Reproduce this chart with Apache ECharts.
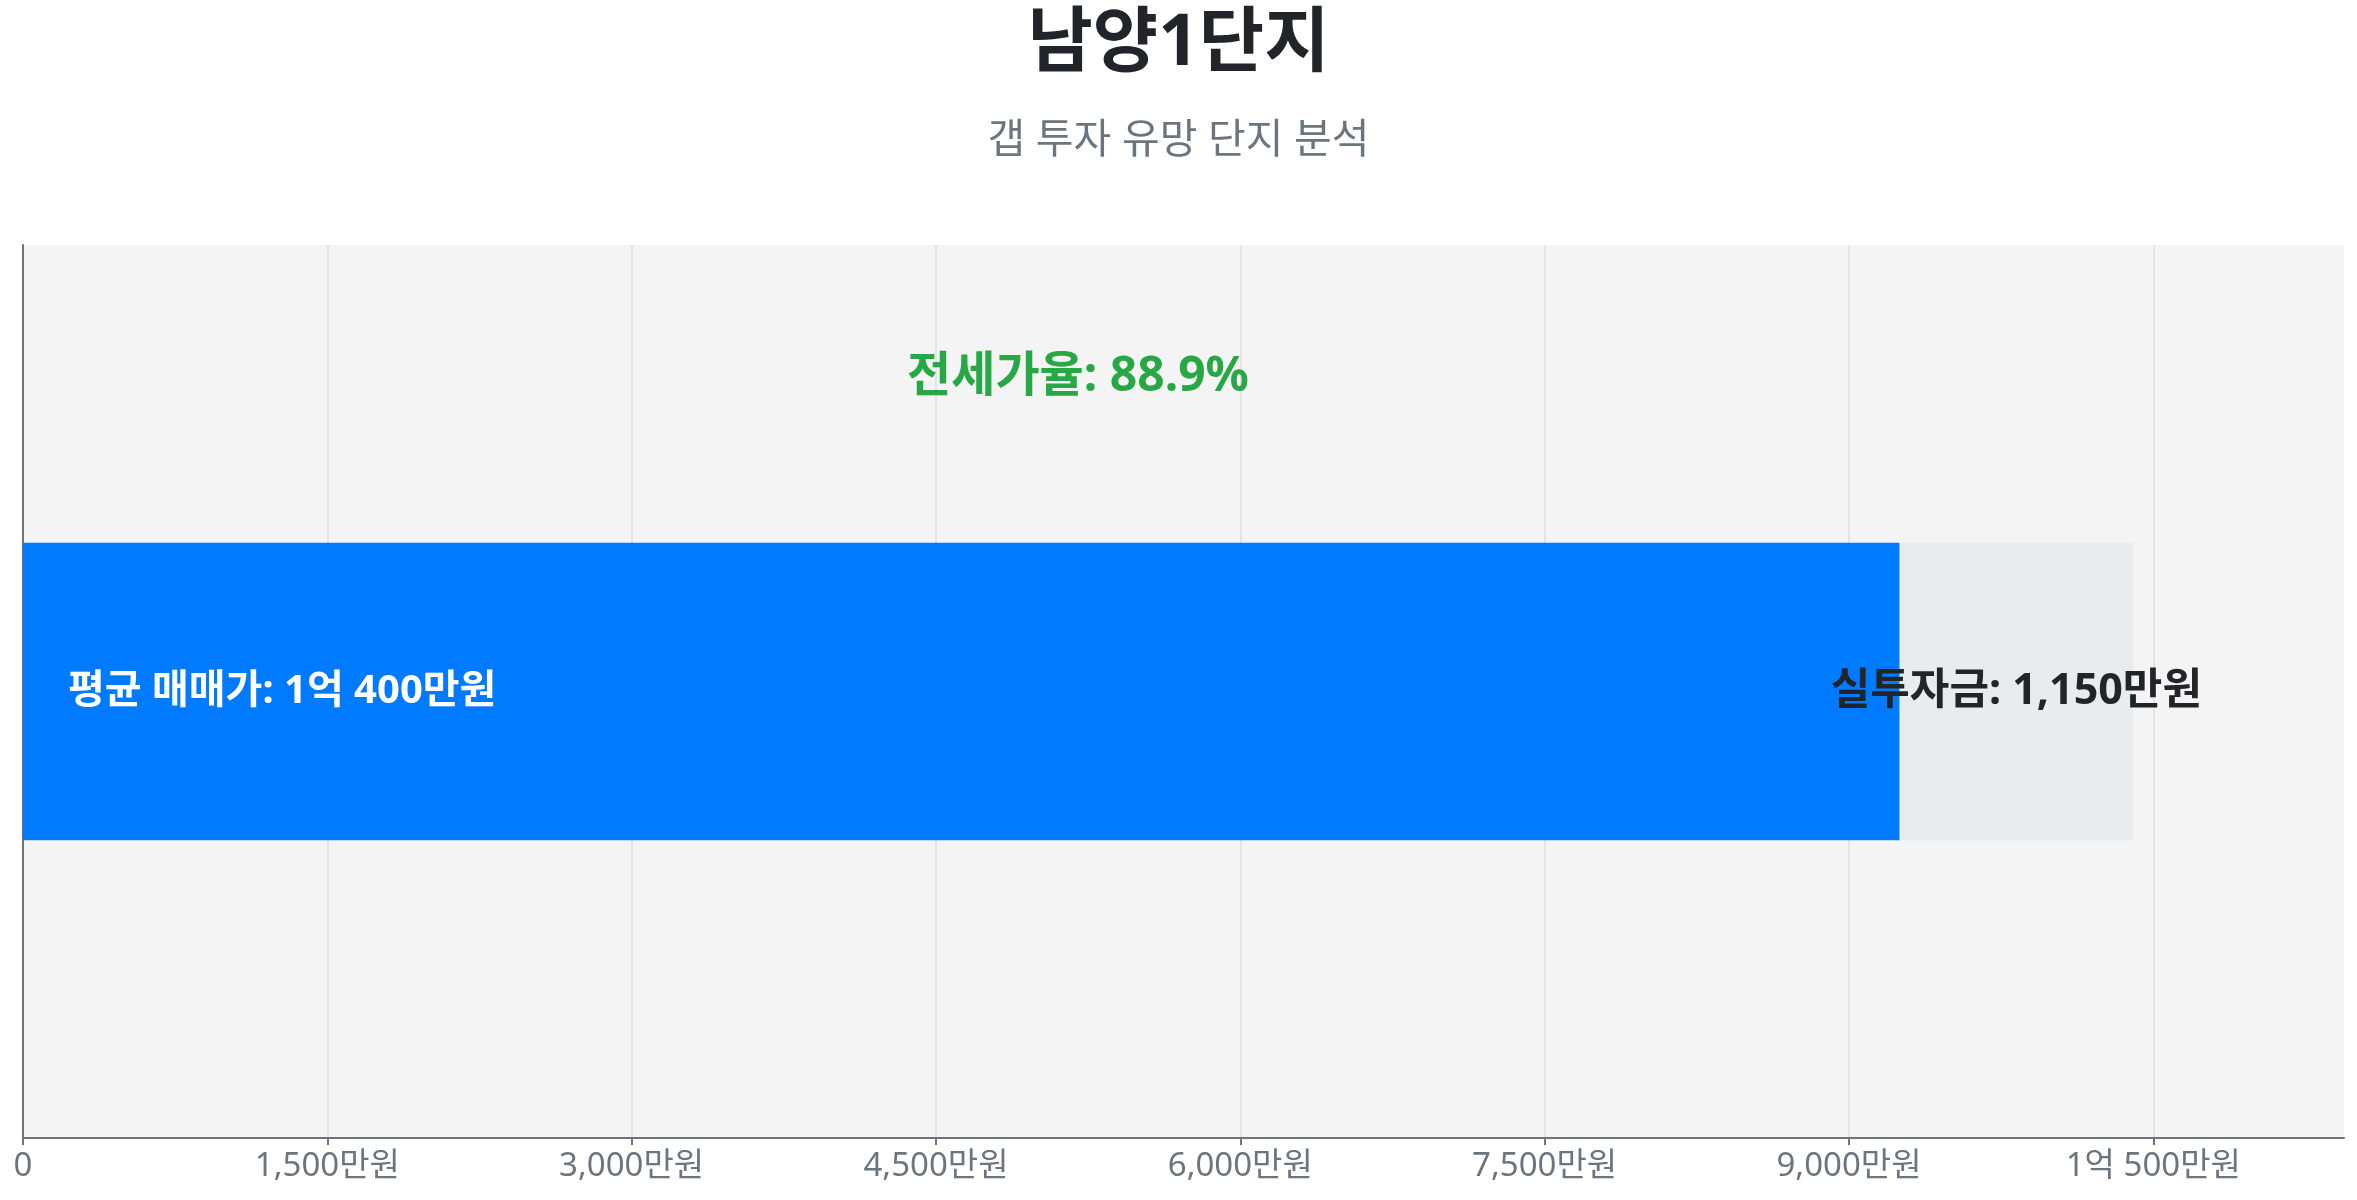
<!DOCTYPE html>
<html>
<head>
<meta charset="utf-8">
<script src="https://cdn.jsdelivr.net/npm/echarts@6/dist/echarts.min.js"></script>
<style>
html,body{margin:0;padding:0;background:#fff;}
#chart{width:2357px;height:1200px;}
</style>
</head>
<body>
<div id="chart"></div>
<script>
const titleText = '남양1단지';
const subtitleText = '갭 투자 유망 단지 분석';
const categories = ['남양1단지'];
const salePrice = [10400];     // 만원
const jeonsePrice = [9250];    // 만원
const gapInvest = [1150];      // 만원
const jeonseRatio = [88.9];    // %
const axisMax = 11440;
const tickValues = [0, 1500, 3000, 4500, 6000, 7500, 9000, 10500];

const FONT = "'Noto Sans', 'Noto Sans CJK KR', sans-serif";

function fmtMan(v) {
  if (v === 0) return '0';
  if (v >= 10000) {
    const eok = Math.floor(v / 10000);
    const rest = v % 10000;
    return eok + '억' + (rest ? ' ' + rest.toLocaleString('en-US') + '만원' : '');
  }
  return v.toLocaleString('en-US') + '만원';
}

const chart = echarts.init(document.getElementById('chart'));
chart.setOption({
  backgroundColor: '#ffffff',
  animation: false,
  title: {
    text: titleText,
    subtext: subtitleText,
    left: 'center',
    top: 4,
    itemGap: 41,
    textStyle: { fontFamily: FONT, fontSize: 71, fontWeight: 'bold', color: '#212529' },
    subtextStyle: { fontFamily: FONT, fontSize: 41, color: '#6c757d' }
  },
  grid: {
    left: 23, right: 13, top: 245, bottom: 62,
    show: true, backgroundColor: '#f4f4f4', borderWidth: 0
  },
  xAxis: {
    type: 'value',
    min: 0,
    max: axisMax,
    interval: 1500,
    axisLine: { show: true, lineStyle: { color: '#6c757d', width: 2 } },
    axisTick: { show: true, length: 7, customValues: tickValues, lineStyle: { color: '#6c757d', width: 2 } },
    axisLabel: {
      customValues: tickValues,
      color: '#6c757d', fontFamily: FONT, fontSize: 33, margin: 12,
      formatter: v => fmtMan(v)
    },
    splitLine: { show: true, lineStyle: { color: '#e4e4e4', width: 2 } }
  },
  yAxis: {
    type: 'category',
    data: categories,
    axisLine: { show: true, lineStyle: { color: '#6c757d', width: 2 } },
    axisTick: { show: false },
    axisLabel: { show: false },
    splitLine: { show: false }
  },
  series: [
    {
      name: '전세가',
      type: 'bar',
      stack: 'total',
      barWidth: '33.3%',
      data: jeonsePrice,
      itemStyle: { color: '#007bff' },
      label: {
        show: true,
        position: 'insideLeft',
        distance: 45,
        color: '#ffffff',
        fontFamily: FONT,
        fontSize: 40,
        fontWeight: 'bold',
        formatter: p => '평균 매매가: ' + fmtMan(salePrice[p.dataIndex])
      },
      markPoint: {
        symbol: 'circle',
        symbolSize: 0,
        data: [{
          coord: [salePrice[0] / 2, categories[0]],
          label: {
            show: true,
            position: 'inside',
            offset: [0, -314],
            color: '#28a745',
            fontFamily: FONT,
            fontSize: 48,
            fontWeight: 'bold',
            formatter: '전세가율: ' + jeonseRatio[0].toFixed(1) + '%'
          }
        }]
      }
    },
    {
      name: '실투자금',
      type: 'bar',
      stack: 'total',
      barWidth: '33.3%',
      data: gapInvest,
      itemStyle: { color: '#e9ecef' },
      label: {
        show: true,
        position: 'inside',
        color: '#212529',
        fontFamily: FONT,
        fontSize: 43,
        fontWeight: 'bold',
        formatter: p => '실투자금: ' + gapInvest[p.dataIndex].toLocaleString('en-US') + '만원'
      }
    }
  ]
});
</script>
</body>
</html>
